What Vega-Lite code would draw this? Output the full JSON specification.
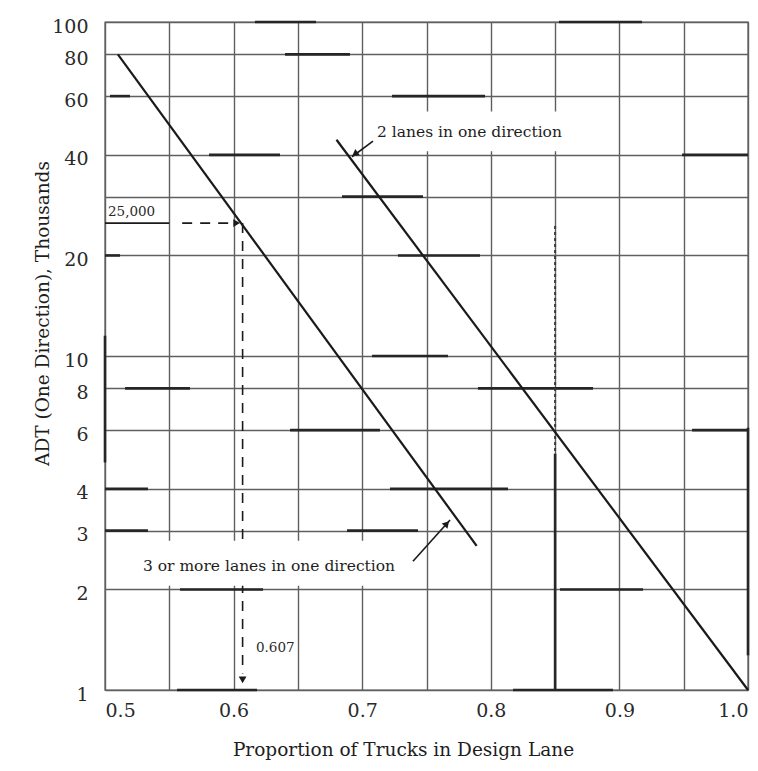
{
  "$schema": "https://vega.github.io/schema/vega-lite/v6.json",
  "width": 643,
  "height": 668,
  "autosize": {"type": "none"},
  "padding": {"left": 105, "top": 22, "right": 10, "bottom": 81},
  "background": "white",
  "config": {
    "view": {"stroke": "#5f5f5f", "strokeWidth": 1.4},
    "font": "DejaVu Serif",
    "axis": {
      "grid": true, "gridColor": "#5f5f5f", "gridWidth": 1.4, "gridOpacity": 1,
      "domain": false, "ticks": false, "tickSize": 0,
      "labelFont": "DejaVu Serif", "labelColor": "#2a2a2a", "labelFontSize": 19,
      "titleFont": "DejaVu Serif", "titleFontSize": 18.5, "titleFontWeight": "normal", "titleColor": "#1e1e1e"
    }
  },
  "datasets": {
    "hsegs": [
      {"y": 100, "x": 0.6166, "x2": 0.6641}, {"y": 100, "x": 0.853, "x2": 0.9176},
      {"y": 80, "x": 0.640, "x2": 0.6905},
      {"y": 60, "x": 0.5039, "x2": 0.5194}, {"y": 60, "x": 0.7232, "x2": 0.7955},
      {"y": 40, "x": 0.5809, "x2": 0.6361}, {"y": 40, "x": 0.9487, "x2": 1.0},
      {"y": 30, "x": 0.6843, "x2": 0.7473},
      {"y": 20, "x": 0.5, "x2": 0.5117}, {"y": 20, "x": 0.7278, "x2": 0.7916},
      {"y": 10, "x": 0.7076, "x2": 0.7667},
      {"y": 8, "x": 0.5156, "x2": 0.5661}, {"y": 8, "x": 0.79, "x2": 0.8795},
      {"y": 6, "x": 0.6439, "x2": 0.7138}, {"y": 6, "x": 0.9565, "x2": 1.0},
      {"y": 4, "x": 0.5, "x2": 0.5334}, {"y": 4, "x": 0.7216, "x2": 0.8134},
      {"y": 3, "x": 0.5, "x2": 0.5334}, {"y": 3, "x": 0.6882, "x2": 0.7434},
      {"y": 2, "x": 0.5583, "x2": 0.6229}, {"y": 2, "x": 0.8538, "x2": 0.9184},
      {"y": 1, "x": 0.556, "x2": 0.6182}, {"y": 1, "x": 0.8173, "x2": 0.895}
    ],
    "vsegs": [
      {"x": 0.5, "y": 11.5, "y2": 4.8},
      {"x": 0.85, "y": 5.1, "y2": 1.0},
      {"x": 1.0, "y": 6.1, "y2": 1.27}
    ],
    "vdots": [
      {"x": 0.85, "y": 24.5, "y2": 5.1}
    ],
    "curves": [
      {"series": "3 or more lanes in one direction", "x": 0.510, "y": 80},
      {"series": "3 or more lanes in one direction", "x": 0.789, "y": 2.7},
      {"series": "2 lanes in one direction", "x": 0.680, "y": 44.4},
      {"series": "2 lanes in one direction", "x": 1.0, "y": 1.0}
    ],
    "dashed": [
      {"seg": "h", "x": 0.56, "y": 25},
      {"seg": "h", "x": 0.598, "y": 25},
      {"seg": "v", "x": 0.607, "y": 25},
      {"seg": "v", "x": 0.607, "y": 1.12}
    ],
    "thin": [
      {"seg": "underline", "x": 0.5, "y": 25},
      {"seg": "underline", "x": 0.55, "y": 25},
      {"seg": "arrow2", "x": 0.7084, "y": 44.0},
      {"seg": "arrow2", "x": 0.6921, "y": 39.5},
      {"seg": "arrow3", "x": 0.7395, "y": 2.43},
      {"seg": "arrow3", "x": 0.7683, "y": 3.23}
    ],
    "boxes": [
      {"name": "2 lanes", "x": 0.7076, "x2": 0.862, "y": 41, "y2": 54},
      {"name": "3 lanes", "x": 0.527, "x2": 0.735, "y": 2.05, "y2": 2.8}
    ],
    "bigtext": [
      {"x": 0.7115, "y": 46.9, "text": "2 lanes in one direction"},
      {"x": 0.5295, "y": 2.35, "text": "3 or more lanes in one direction"}
    ],
    "smalltext": [
      {"x": 0.5023, "y": 26.9, "text": "25,000"},
      {"x": 0.6174, "y": 1.335, "text": "0.607"}
    ],
    "heads": [
      {"name": "right", "x": 0.6015, "y": 25},
      {"name": "down", "x": 0.607, "y": 1.08},
      {"name": "arrow2", "x": 0.6950, "y": 40.4},
      {"name": "arrow3", "x": 0.7652, "y": 3.13}
    ]
  },
  "encoding": {
    "x": {
      "field": "x", "type": "quantitative",
      "scale": {"domain": [0.5, 1.0], "nice": false, "zero": false},
      "axis": {
        "values": [0.5, 0.55, 0.6, 0.65, 0.7, 0.75, 0.8, 0.85, 0.9, 0.95, 1.0],
        "format": ".1f",
        "labelExpr": "abs(datum.value * 10 - round(datum.value * 10)) < 0.01 ? datum.label : ''",
        "labelPadding": 11,
        "title": "Proportion of Trucks in Design Lane",
        "titleX": 298, "titleY": 59, "titleBaseline": "middle"
      }
    },
    "y": {
      "field": "y", "type": "quantitative",
      "scale": {"type": "log", "domain": [1, 100], "nice": false},
      "axis": {
        "values": [1, 2, 3, 4, 6, 8, 10, 20, 30, 40, 60, 80, 100],
        "format": "d",
        "labelExpr": "datum.value == 30 ? '' : datum.label",
        "labelPadding": 17, "labelOffset": 4,
        "title": "ADT (One Direction), Thousands",
        "titleX": -63, "titleY": 291, "titleBaseline": "middle"
      }
    }
  },
  "layer": [
    {
      "data": {"name": "hsegs"},
      "mark": {"type": "rule", "stroke": "#262626", "strokeWidth": 2.6},
      "encoding": {"x2": {"field": "x2"}}
    },
    {
      "data": {"name": "vsegs"},
      "mark": {"type": "rule", "stroke": "#262626", "strokeWidth": 2.6},
      "encoding": {"y2": {"field": "y2"}}
    },
    {
      "data": {"name": "vdots"},
      "mark": {"type": "rule", "stroke": "#3a3a3a", "strokeWidth": 2, "strokeDash": [3, 3]},
      "encoding": {"y2": {"field": "y2"}}
    },
    {
      "data": {"name": "curves"},
      "mark": {"type": "line", "stroke": "#1a1a1a", "strokeWidth": 2.2},
      "encoding": {"detail": {"field": "series"}}
    },
    {
      "data": {"name": "dashed"},
      "mark": {"type": "line", "stroke": "#1a1a1a", "strokeWidth": 1.6, "strokeDash": [10, 8]},
      "encoding": {"detail": {"field": "seg"}}
    },
    {
      "data": {"name": "boxes"},
      "mark": {"type": "rect", "fill": "white", "stroke": null},
      "encoding": {"x2": {"field": "x2"}, "y2": {"field": "y2"}}
    },
    {
      "data": {"name": "thin"},
      "mark": {"type": "line", "stroke": "#1a1a1a", "strokeWidth": 1.6},
      "encoding": {"detail": {"field": "seg"}}
    },
    {
      "data": {"name": "bigtext"},
      "mark": {"type": "text", "align": "left", "baseline": "middle", "fontSize": 15.5, "font": "DejaVu Serif", "fill": "#1e1e1e"},
      "encoding": {"text": {"field": "text"}}
    },
    {
      "data": {"name": "smalltext"},
      "mark": {"type": "text", "align": "left", "baseline": "middle", "fontSize": 13.5, "font": "DejaVu Serif", "fill": "#2a2a2a"},
      "encoding": {"text": {"field": "text"}}
    },
    {
      "data": {"name": "heads"},
      "transform": [{"filter": "datum.name == 'right'"}],
      "mark": {"type": "point", "shape": "triangle", "angle": 90, "filled": true, "fill": "#1a1a1a", "opacity": 1, "size": 60}
    },
    {
      "data": {"name": "heads"},
      "transform": [{"filter": "datum.name == 'down'"}],
      "mark": {"type": "point", "shape": "triangle", "angle": 180, "filled": true, "fill": "#1a1a1a", "opacity": 1, "size": 60}
    },
    {
      "data": {"name": "heads"},
      "transform": [{"filter": "datum.name == 'arrow2'"}],
      "mark": {"type": "point", "shape": "triangle", "angle": 234, "filled": true, "fill": "#1a1a1a", "opacity": 1, "size": 60}
    },
    {
      "data": {"name": "heads"},
      "transform": [{"filter": "datum.name == 'arrow3'"}],
      "mark": {"type": "point", "shape": "triangle", "angle": 42, "filled": true, "fill": "#1a1a1a", "opacity": 1, "size": 60}
    }
  ]
}
